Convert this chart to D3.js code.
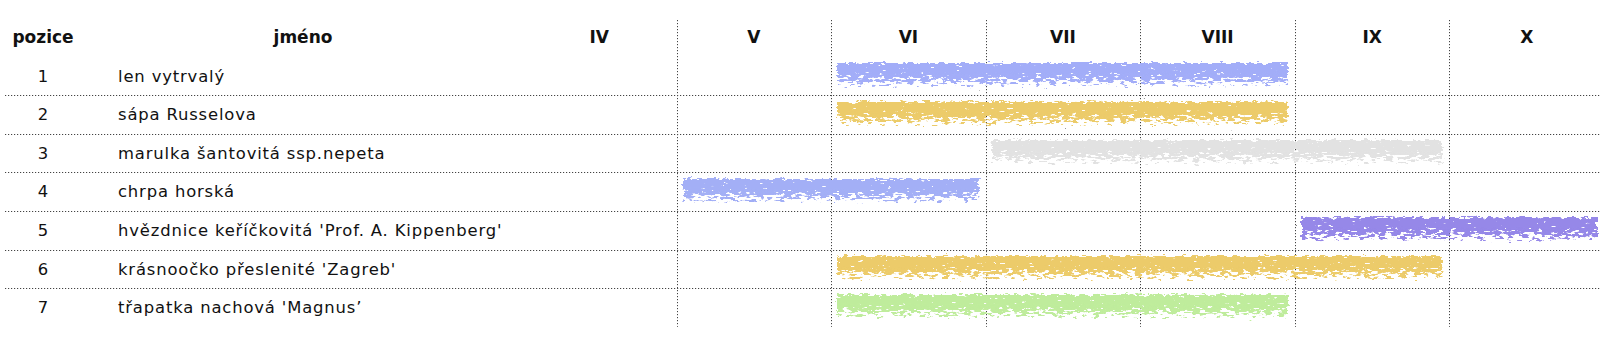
<!DOCTYPE html>
<html>
<head>
<meta charset="utf-8">
<script src="https://cdn.jsdelivr.net/npm/d3@7"></script>
<style>
  body { margin: 0; background: #fff; }
  svg { display: block; font-family: "DejaVu Sans", sans-serif; }
  .grid line { stroke: #444; stroke-width: 1; stroke-dasharray: 1.2 1.8; }
  .head { font-weight: 700; font-size: 17px; fill: #111; }
  .cell { font-size: 16.4px; fill: #111; }
  .name { letter-spacing: 0.85px; }
</style>
</head>
<body>
<div class="chart"></div>
<script>
var months = ['IV', 'V', 'VI', 'VII', 'VIII', 'IX', 'X'];
var positions = [1, 2, 3, 4, 5, 6, 7];
var names = [
    'len vytrvalý',
    'sápa Russelova',
    'marulka šantovitá ssp.nepeta',
    'chrpa horská',
    "hvězdnice keříčkovitá 'Prof. A. Kippenberg'",
    "krásnoočko přeslenité 'Zagreb'",
    "třapatka nachová 'Magnus’"
];
var startMonth = ['VI', 'VI', 'VII', 'V', 'IX', 'VI', 'VI'];
var endMonth = ['VIII', 'VIII', 'IX', 'VI', 'X', 'IX', 'VIII'];
var colors = ['#a2adf8', '#eccb6a', '#e2e2e2', '#a3aff6', '#9688e8', '#eccb6a', '#bfec9c'];

var width = 1600;
var height = 349;
var top0 = 18;
var rowH = 38.6;

var rows = positions.map((p, i) => ({
    pos: p, name: names[i], start: startMonth[i], end: endMonth[i], color: colors[i]
}));

var xScale = d3.scaleBand()
    .domain(months)
    .range([522, 1604]);

var yScale = d3.scaleBand()
    .domain(['head'].concat(positions))
    .range([top0, top0 + rowH * (positions.length + 1)]);

var svg = d3.select('.chart').append('svg')
    .attr('width', width)
    .attr('height', height);

var defs = svg.append('defs');

// crayon look: ragged edges, holes growing towards the bottom
var f = defs.append('filter')
    .attr('id', 'crayon')
    .attr('x', '-3%').attr('y', '-25%')
    .attr('width', '106%').attr('height', '150%');
f.append('feTurbulence')
    .attr('type', 'fractalNoise')
    .attr('baseFrequency', '0.16 0.45')
    .attr('numOctaves', 3)
    .attr('seed', 4)
    .attr('result', 'noise');
f.append('feDisplacementMap')
    .attr('in', 'SourceGraphic')
    .attr('in2', 'noise')
    .attr('scale', 7)
    .attr('xChannelSelector', 'R')
    .attr('yChannelSelector', 'G')
    .attr('result', 'rough');
f.append('feTurbulence')
    .attr('type', 'fractalNoise')
    .attr('baseFrequency', '0.14 0.4')
    .attr('numOctaves', 3)
    .attr('seed', 11)
    .attr('result', 'speck');
f.append('feComposite')
    .attr('in', 'rough')
    .attr('in2', 'speck')
    .attr('operator', 'arithmetic')
    .attr('k1', 0).attr('k2', 1).attr('k3', 1.5).attr('k4', -1.05)
    .attr('result', 'mix');
var ct = f.append('feComponentTransfer')
    .attr('in', 'mix')
    .attr('result', 'mask');
ct.append('feFuncA').attr('type', 'linear').attr('slope', 10).attr('intercept', -2.5);
f.append('feColorMatrix')
    .attr('in', 'rough')
    .attr('type', 'matrix')
    .attr('values', '1 0 0 0 0  0 1 0 0 0  0 0 1 0 0  0 0 0 0 1')
    .attr('result', 'solid');
f.append('feComposite')
    .attr('in', 'solid')
    .attr('in2', 'mask')
    .attr('operator', 'in');

// one vertical fade per bar, so the filter thins out the lower edge
var grads = defs.selectAll('linearGradient')
    .data(rows)
    .enter().append('linearGradient')
    .attr('id', (d, i) => 'fade' + i)
    .attr('x1', 0).attr('y1', 0).attr('x2', 0).attr('y2', 1);
grads.append('stop').attr('offset', '0%')
    .attr('stop-color', d => d.color).attr('stop-opacity', 1);
grads.append('stop').attr('offset', '40%')
    .attr('stop-color', d => d.color).attr('stop-opacity', 1);
grads.append('stop').attr('offset', '100%')
    .attr('stop-color', d => d.color).attr('stop-opacity', 0.35);

var grid = svg.append('g').attr('class', 'grid');

grid.selectAll('.hline')
    .data(positions.slice(1))
    .enter().append('line')
    .attr('x1', 5)
    .attr('x2', width)
    .attr('y1', d => Math.round(yScale(d)) + 0.5)
    .attr('y2', d => Math.round(yScale(d)) + 0.5);

grid.selectAll('.vline')
    .data(months.slice(1))
    .enter().append('line')
    .attr('x1', d => Math.round(xScale(d)) + 0.5)
    .attr('x2', d => Math.round(xScale(d)) + 0.5)
    .attr('y1', top0 + 2)
    .attr('y2', yScale.range()[1]);

var mid = d => yScale(d) + yScale.bandwidth() / 2;

svg.append('text').attr('class', 'head')
    .attr('x', 43).attr('y', mid('head'))
    .attr('dy', '0.35em').attr('text-anchor', 'middle')
    .text('pozice');
svg.append('text').attr('class', 'head')
    .attr('x', 303).attr('y', mid('head'))
    .attr('dy', '0.35em').attr('text-anchor', 'middle')
    .text('jméno');

svg.selectAll('.month')
    .data(months)
    .enter().append('text')
    .attr('class', 'head')
    .attr('x', d => xScale(d) + xScale.bandwidth() / 2)
    .attr('y', mid('head'))
    .attr('dy', '0.35em')
    .attr('text-anchor', 'middle')
    .text(d => d);

var bars = svg.append('g').attr('class', 'bars');
bars.selectAll('rect')
    .data(rows)
    .enter().append('rect')
    .attr('x', d => xScale(d.start) + 6)
    .attr('width', d => xScale(d.end) + xScale.bandwidth() - 7 - xScale(d.start) - 6)
    .attr('y', d => mid(d.pos) - 13)
    .attr('height', 24)
    .attr('fill', (d, i) => `url(#fade${i})`)
    .attr('filter', 'url(#crayon)');

svg.selectAll('.num')
    .data(rows)
    .enter().append('text')
    .attr('class', 'cell')
    .attr('x', 43)
    .attr('y', d => mid(d.pos))
    .attr('dy', '0.35em')
    .attr('text-anchor', 'middle')
    .text(d => d.pos);

svg.selectAll('.name')
    .data(rows)
    .enter().append('text')
    .attr('class', 'cell name')
    .attr('x', 118)
    .attr('y', d => mid(d.pos))
    .attr('dy', '0.35em')
    .text(d => d.name);
</script>
</body>
</html>
